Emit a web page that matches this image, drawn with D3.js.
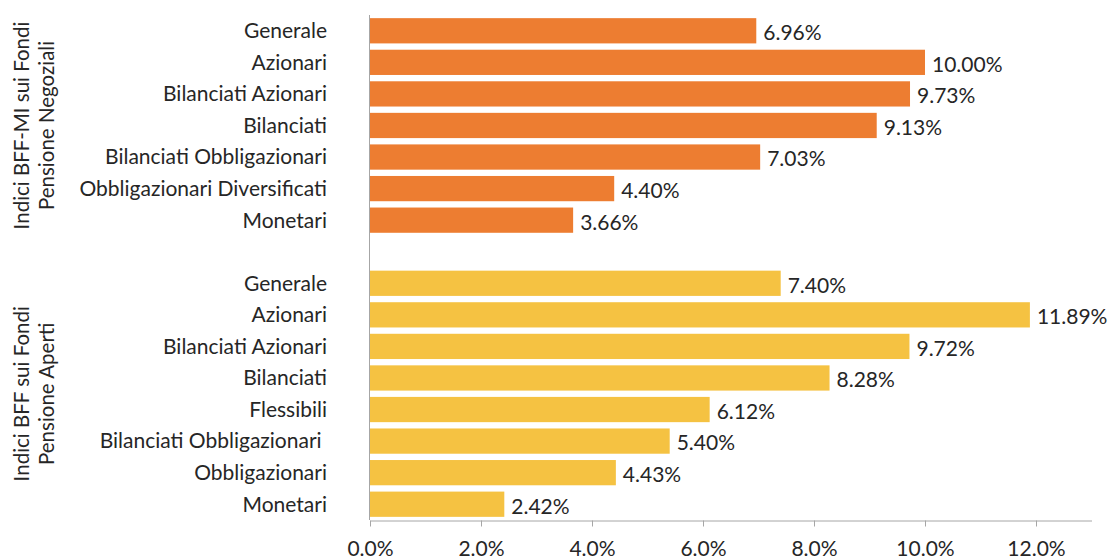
<!DOCTYPE html>
<html><head><meta charset="utf-8">
<script src="https://cdn.jsdelivr.net/npm/d3@7"></script>
<style>
body{margin:0;background:#fff;}
text{font-family:Lato,"Open Sans",sans-serif;fill:#262626;}
</style></head>
<body><svg id="c" width="1110" height="559"></svg>
<script>
const groupLabels = [["Indici BFF-MI sui Fondi","Pensione Negoziali"],["Indici BFF sui Fondi","Pensione Aperti"]];
const negozialiCats = ["Generale","Azionari","Bilanciati Azionari","Bilanciati","Bilanciati Obbligazionari","Obbligazionari Diversificati","Monetari"];
const negozialiVals = [6.96,10.00,9.73,9.13,7.03,4.40,3.66];
const apertiCats = ["Generale","Azionari","Bilanciati Azionari","Bilanciati","Flessibili","Bilanciati Obbligazionari ","Obbligazionari","Monetari"];
const apertiVals = [7.40,11.89,9.72,8.28,6.12,5.40,4.43,2.42];
const tickVals = [0,2,4,6,8,10,12];
const colors = ["#ED7D31","#F5C242"];

const rows = [];
negozialiCats.forEach((c,i)=>rows.push({key:"n"+i,cat:c,v:negozialiVals[i],g:0}));
rows.push({key:"gap",cat:"",v:null,g:-1});
apertiCats.forEach((c,i)=>rows.push({key:"a"+i,cat:c,v:apertiVals[i],g:1}));

const svg = d3.select("#c");
const pL=370, pR=1091.5, pT=15, pB=520;
const FS = 21;
const x = d3.scaleLinear().domain([0,13]).range([pL,pR]);
const y = d3.scaleBand().domain(rows.map(r=>r.key)).range([pT,pB]).paddingInner(0.2).paddingOuter(0.1);

const data = rows.filter(r=>r.v!==null);
svg.append("g").selectAll("rect").data(data).join("rect")
  .attr("x",x(0)).attr("y",r=>y(r.key)).attr("width",r=>x(r.v)-x(0)).attr("height",y.bandwidth())
  .attr("fill",r=>colors[r.g]);

svg.append("g").selectAll("text").data(data).join("text")
  .attr("x",r=>x(r.v)+7).attr("y",r=>y(r.key)+y.bandwidth()/2+2).attr("dy","0.35em")
  .attr("font-size",FS).text(r=>r.v.toFixed(2)+"%");

svg.append("g").selectAll("text").data(data).join("text")
  .attr("x",327).attr("y",r=>y(r.key)+y.bandwidth()/2).attr("dy","0.35em")
  .attr("text-anchor","end").attr("font-size",FS).style("white-space","pre").text(r=>r.cat);

// y axis line
svg.append("line").attr("x1",pL-0.5).attr("x2",pL-0.5).attr("y1",pT).attr("y2",pB)
  .attr("stroke","#a6a6a6").attr("stroke-width",1);

const xAxis = svg.append("g").attr("transform",`translate(0,${pB+0.5})`)
  .call(d3.axisBottom(x).tickValues(tickVals).tickSize(6).tickSizeOuter(0).tickFormat(d=>d.toFixed(1)+"%"));
xAxis.select(".domain").attr("stroke","#a6a6a6");
xAxis.selectAll(".tick line").attr("stroke","#a6a6a6");
xAxis.selectAll(".tick text").attr("font-size",FS).attr("font-family","Lato,'Open Sans',sans-serif").attr("fill","#262626").attr("y",21);

// group labels
const groupCenters = [0,1].map(g=>{
  const ks = rows.filter(r=>r.g===g).map(r=>r.key);
  return (y(ks[0]) + y(ks[ks.length-1]) + y.bandwidth())/2;
});
groupLabels.forEach((lines,g)=>{
  lines.forEach((t,i)=>{
    svg.append("text").attr("transform",`translate(${29+i*25},${groupCenters[g]}) rotate(-90)`)
      .attr("text-anchor","middle").attr("font-size",20.5).text(t);
  });
});
</script></body></html>
